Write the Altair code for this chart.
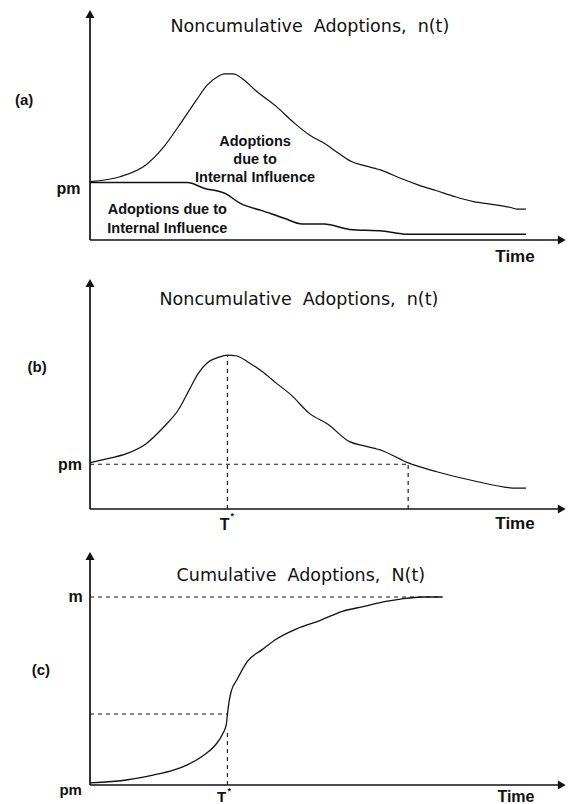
import altair as alt
import pandas as pd

# ---------------- data ----------------
# shared time scale (t = 0 at the vertical axis)
X_DOM = [-18.87, 100.63]

# panel (a): total adoptions and the lower (influence) component
A_TOTAL_T = [0, 6.3, 11.7, 15.5, 18.5, 22.3, 24.6, 27.0, 28.1, 30.0, 32.3, 34.6, 39.1, 42.9,
             46.0, 49.1, 52.1, 54.8, 57.5, 61.3, 65.1, 68.9, 72.7, 76.5, 80.4, 84.2, 88.0, 89.5, 91.4]
A_TOTAL_V = [25.8, 28.0, 33.2, 41.3, 50.1, 61.9, 68.6, 72.6, 73.5, 73.5, 70.8, 66.4, 59.0, 51.6,
             46.5, 42.8, 38.4, 34.7, 32.9, 30.7, 27.3, 24.3, 21.8, 19.2, 17.0, 15.8, 14.5, 13.7, 13.7]
A_LOW_T = [0, 20.4, 23.9, 28.5, 31.5, 36.1, 40.7, 44.5, 49.1, 54.4, 61.3, 66.6, 91.4]
A_LOW_V = [25.4, 25.4, 22.9, 20.4, 16.2, 13.0, 9.6, 7.1, 7.1, 4.7, 4.0, 2.5, 2.5]
A_YDOM = [-13.27, 106.19]

# panel (b): noncumulative adoptions
B_T = [0, 4.0, 7.8, 11.7, 15.5, 18.5, 20.8, 22.7, 24.6, 26.9, 28.8, 30.8, 33.0, 36.1, 39.1,
       42.2, 46.0, 49.8, 54.4, 57.5, 61.3, 66.6, 72.7, 80.4, 89.5, 91.4]
B_V = [20.5, 22.4, 24.6, 28.8, 36.4, 43.8, 52.7, 60.0, 64.7, 67.1, 68.1, 67.7, 65.2, 60.8, 55.6,
       50.4, 42.3, 37.6, 29.8, 27.9, 25.8, 20.5, 16.5, 12.5, 9.2, 9.2]
B_PM = 19.8
B_PEAK = 68.1
B_T_PM = 66.7
B_YDOM = [-9.29, 105.75]

# panel (c): cumulative adoptions
C_T = [0, 7.9, 13.2, 17.5, 20.3, 23.7, 26.2, 27.9, 28.6, 28.8, 29.2, 29.6, 30.8, 33.0, 36.1,
       39.1, 43.7, 48.3, 52.9, 57.5, 62.0, 65.1, 69.7, 73.9]
C_V = [1.1, 2.8, 5.3, 7.9, 10.6, 15.6, 21.0, 27.6, 32.5, 37.4, 45.0, 49.8, 56.0, 65.8, 72.0,
       77.7, 83.5, 87.6, 92.4, 95.0, 97.7, 98.9, 100, 100]
C_M = 100
C_HALF = 37.8
C_LOW_AT_T = 29.3
C_M_END = 73.9
C_YDOM = [-11.70, 134.04]

T_STAR = 28.8

INK = "#111111"
TITLE_FONT = "DejaVu Sans"
LABEL_FONT = "Liberation Sans"


# ---------------- helpers ----------------
def X(field="t"):
    return alt.X(f"{field}:Q", scale=alt.Scale(domain=X_DOM, nice=False, zero=False), axis=None)


def Y(dom, field="v"):
    return alt.Y(f"{field}:Q", scale=alt.Scale(domain=dom, nice=False, zero=False), axis=None)


def curve(ts, vs, dom, width=1.3):
    df = pd.DataFrame({"t": ts, "v": vs})
    return alt.Chart(df).mark_line(color=INK, strokeWidth=width, interpolate="monotone").encode(
        x=X(), y=Y(dom))


def segments(rows, dom, dash=None, width=1.0):
    df = pd.DataFrame(rows, columns=["t", "t2", "v", "v2"])
    kw = dict(color=INK, strokeWidth=width)
    if dash:
        kw["strokeDash"] = dash
    return alt.Chart(df).mark_rule(**kw).encode(
        x=X(), x2=alt.X2("t2:Q"), y=Y(dom), y2=alt.Y2("v2:Q"))


def arrows(rows, dom):
    df = pd.DataFrame(rows, columns=["t", "v", "shape"])
    return alt.Chart(df).mark_point(filled=True, color=INK, opacity=1, size=81).encode(
        x=X(), y=Y(dom), shape=alt.Shape("shape:N", scale=None))


def texts(rows, dom, **kw):
    df = pd.DataFrame(rows, columns=["t", "v", "label"])
    base = dict(color=INK, baseline="middle")
    base.update(kw)
    return alt.Chart(df).mark_text(**base).encode(x=X(), y=Y(dom), text="label:N")


def axes(dom, ytop):
    return [
        segments([[0, 98.9, 0, 0], [0, 0, 0, ytop]], dom, width=1.7),
        arrows([[0, ytop, "triangle-up"], [98.9, 0, "triangle-right"]], dom),
    ]


# ---------------- panel (a) ----------------
pa = alt.layer(
    *axes(A_YDOM, 100.0),
    curve(A_LOW_T, A_LOW_V, A_YDOM, 1.5),
    curve(A_TOTAL_T, A_TOTAL_V, A_YDOM, 1.2),
    texts([[46.1, 94.2, "Noncumulative\u00a0 Adoptions,\u00a0 n(t)"]], A_YDOM,
          font=TITLE_FONT, fontSize=17.5),
    texts([[34.6, 43.4, "Adoptions"], [34.6, 35.4, "due to"], [34.6, 27.4, "Internal Influence"],
           [16.2, 13.3, "Adoptions due to"], [16.2, 4.9, "Internal Influence"]], A_YDOM,
          font=LABEL_FONT, fontSize=14.5, fontWeight="bold"),
    texts([[-13.8, 61.9, "(a)"]], A_YDOM, font=LABEL_FONT, fontSize=15, fontWeight="bold"),
    texts([[-2.0, 22.6, "pm"]], A_YDOM, font=LABEL_FONT, fontSize=16, fontWeight="bold",
          align="right"),
    texts([[89.1, -7.5, "Time"]], A_YDOM, font=LABEL_FONT, fontSize=17, fontWeight="bold"),
).properties(width=570, height=270)

# ---------------- panel (b) ----------------
pb = alt.layer(
    *axes(B_YDOM, 100.0),
    segments([[0, B_T_PM, B_PM, B_PM], [T_STAR, T_STAR, 0, B_PEAK], [B_T_PM, B_T_PM, 0, B_PM]],
             B_YDOM, dash=[4, 4], width=1.1),
    curve(B_T, B_V, B_YDOM, 1.2),
    texts([[43.8, 92.5, "Noncumulative\u00a0 Adoptions,\u00a0 n(t)"]], B_YDOM,
          font=TITLE_FONT, fontSize=17.5),
    texts([[-11.1, 62.8, "(b)"]], B_YDOM, font=LABEL_FONT, fontSize=15, fontWeight="bold"),
    texts([[-1.7, 19.5, "pm"]], B_YDOM, font=LABEL_FONT, fontSize=16, fontWeight="bold",
          align="right"),
    texts([[T_STAR - 0.6, -7.0, "T"]], B_YDOM, font=LABEL_FONT, fontSize=16, fontWeight="bold"),
    texts([[T_STAR + 1.0, -3.2, "*"]], B_YDOM, font=LABEL_FONT, fontSize=9, fontWeight="bold"),
    texts([[89.1, -6.6, "Time"]], B_YDOM, font=LABEL_FONT, fontSize=17, fontWeight="bold"),
).properties(width=570, height=260)

# ---------------- panel (c) ----------------
pc = alt.layer(
    *axes(C_YDOM, 121.8),
    segments([[0, C_M_END, C_M, C_M], [0, T_STAR, C_HALF, C_HALF], [T_STAR, T_STAR, 0, C_LOW_AT_T]],
             C_YDOM, dash=[4, 4], width=1.1),
    curve(C_T, C_V, C_YDOM, 1.3),
    texts([[44.2, 111.2, "Cumulative\u00a0 Adoptions,\u00a0 N(t)"]], C_YDOM,
          font=TITLE_FONT, fontSize=17.5),
    texts([[-10.3, 61.2, "(c)"]], C_YDOM, font=LABEL_FONT, fontSize=15, fontWeight="bold"),
    texts([[-1.5, 100, "m"]], C_YDOM, font=LABEL_FONT, fontSize=16, fontWeight="bold",
          align="right"),
    texts([[-1.7, -2.4, "pm"]], C_YDOM, font=LABEL_FONT, fontSize=15, fontWeight="bold",
          align="right"),
    texts([[T_STAR - 1.2, -6.6, "T"]], C_YDOM, font=LABEL_FONT, fontSize=15, fontWeight="bold"),
    texts([[T_STAR + 0.4, -3.4, "*"]], C_YDOM, font=LABEL_FONT, fontSize=9, fontWeight="bold"),
    texts([[89.3, -6.6, "Time"]], C_YDOM, font=LABEL_FONT, fontSize=16, fontWeight="bold"),
).properties(width=570, height=274)

chart = alt.vconcat(pa, pb, pc, spacing=0).properties(
    padding=0, background="white"
).configure_view(strokeWidth=0)

chart.save("out.html", embed_options={"renderer": "svg", "actions": False})
